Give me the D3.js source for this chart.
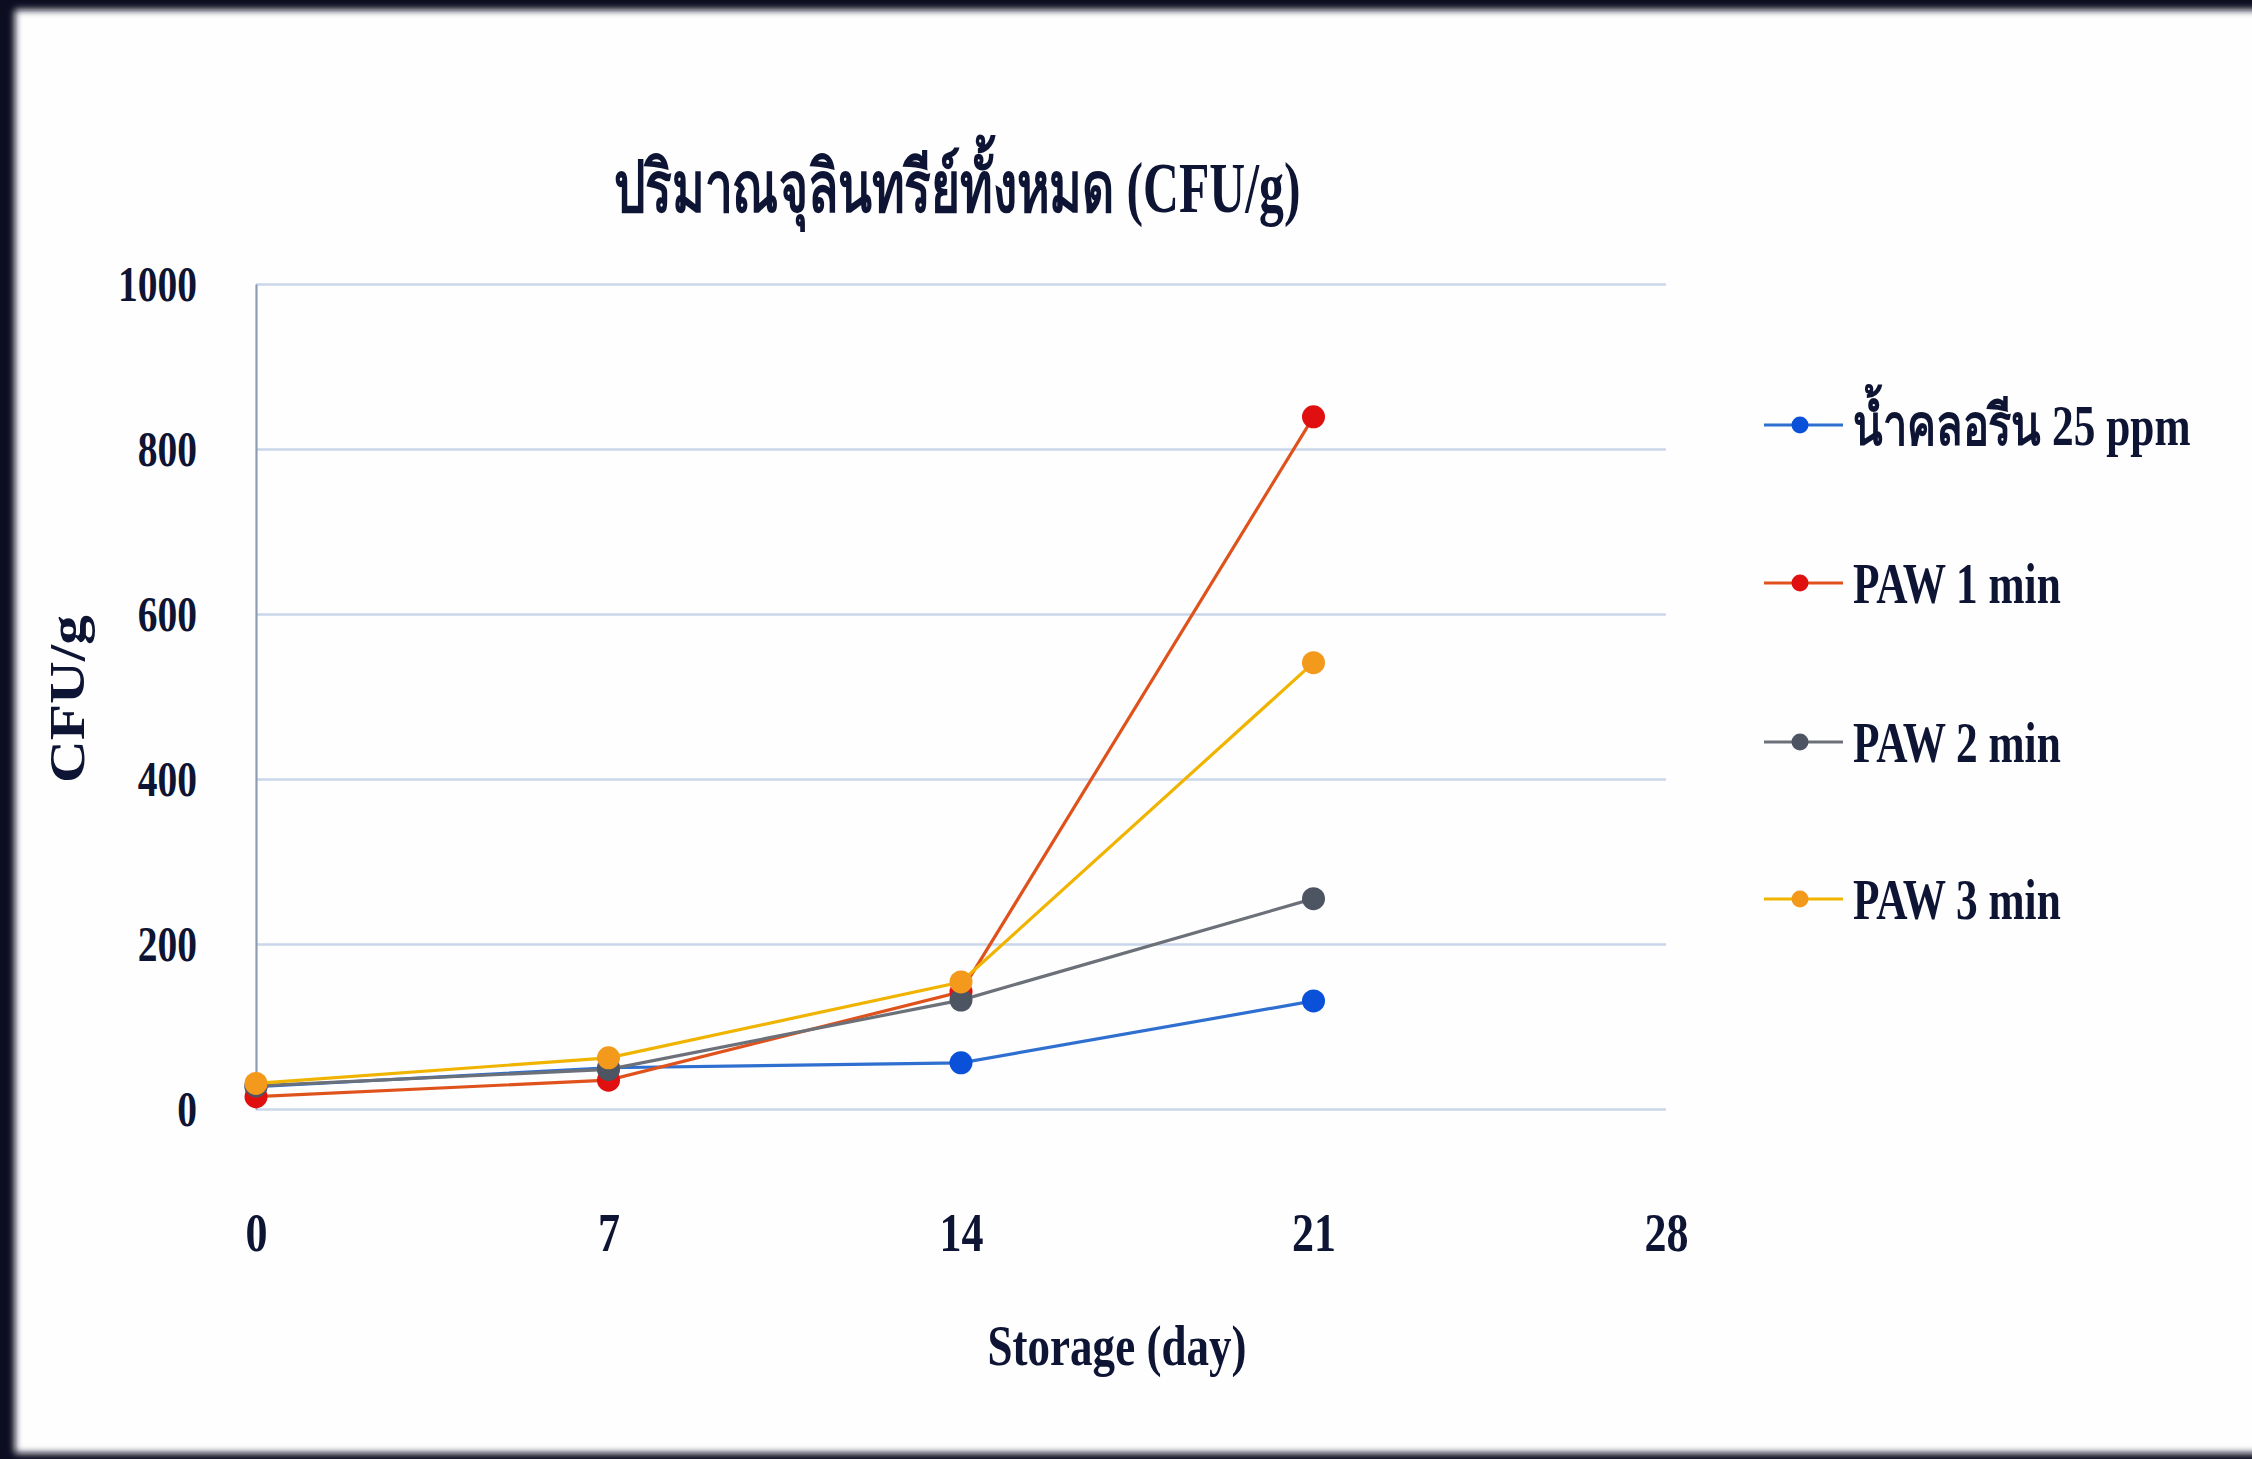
<!DOCTYPE html>
<html>
<head>
<meta charset="utf-8">
<script src="https://cdn.jsdelivr.net/npm/d3@7"></script>
<style>
  html, body { margin: 0; padding: 0; background: #ffffff; overflow: hidden; }
  svg { display: block; }
  text { font-family: "Liberation Serif", "DejaVu Serif", serif; font-weight: bold; fill: #0e1433; }
</style>
</head>
<body>
<script>
// ---- data ----
const days = [0, 7, 14, 21];
const xTicks = [0, 7, 14, 21, 28];
const yTicks = [0, 200, 400, 600, 800, 1000];
const seriesNames = ["น้ำคลอรีน 25 ppm", "PAW 1 min", "PAW 2 min", "PAW 3 min"];
const chlorine25 = [27, 50, 56, 131];
const paw1 = [15, 35, 142, 839];
const paw2 = [28, 48, 132, 255];
const paw3 = [31, 62, 154, 541];
const titleText = "ปริมาณจุลินทรีย์ทั้งหมด (CFU/g)";
const xTitle = "Storage (day)";
const yTitle = "CFU/g";

// ---- styles ----
const lineColors = ["#2f6fd0", "#e0521c", "#6b7079", "#f0b400"];
const markerColors = ["#0a50d8", "#e01010", "#4d5563", "#f39a1c"];

const W = 2252, H = 1459;
const svg = d3.select("body").append("svg").attr("width", W).attr("height", H);

const defs = svg.append("defs");
defs.append("filter").attr("id", "blur").attr("filterUnits", "userSpaceOnUse")
  .attr("x", -60).attr("y", -60).attr("width", W + 120).attr("height", H + 120)
  .append("feGaussianBlur").attr("stdDeviation", 3.5);

// white page with dark frame strips (left, top, bottom)
svg.append("rect").attr("width", W).attr("height", H).attr("fill", "#fefefe");
const frame = svg.append("g").attr("filter", "url(#blur)").attr("fill", "#0a1020");
frame.append("rect").attr("x", -40).attr("y", -40).attr("width", 55).attr("height", H + 80);
frame.append("rect").attr("x", -40).attr("y", -40).attr("width", W + 80).attr("height", 50);
frame.append("rect").attr("x", -40).attr("y", H - 6).attr("width", W + 80).attr("height", 46);

const plot = { left: 256, right: 1666, top: 284, bottom: 1109 };
const x = d3.scaleLinear().domain([0, 28]).range([plot.left, plot.right]);
const y = d3.scaleLinear().domain([0, 1000]).range([plot.bottom, plot.top]);

// gridlines
const grid = svg.append("g").attr("transform", `translate(${plot.left},0)`)
  .call(d3.axisLeft(y).tickValues(yTicks).tickSize(-(plot.right - plot.left)).tickFormat(""));
grid.select(".domain").remove();
grid.selectAll("line").attr("stroke", "#cad6e9").attr("stroke-width", 2.5);

// y axis
const ySX = 0.79;
const yAxis = svg.append("g").attr("transform", `translate(${plot.left},0)`)
  .call(d3.axisLeft(y).tickValues(yTicks).tickSize(0).tickFormat(d3.format("d")));
yAxis.select(".domain").attr("stroke", "#8e9cb2").attr("stroke-width", 2.2);
yAxis.selectAll("text")
  .attr("x", -59 / ySX).attr("dy", "0.33em")
  .attr("transform", `scale(${ySX},1)`)
  .style("font-size", "50px").attr("fill", "#0e1433");

// x axis labels
const xSX = 0.8;
const xAxis = svg.append("g").attr("transform", `translate(0,${plot.bottom})`)
  .call(d3.axisBottom(x).tickValues(xTicks).tickSize(0).tickFormat(d3.format("d")));
xAxis.select(".domain").remove();
xAxis.selectAll("text")
  .attr("y", 142).attr("dy", 0)
  .attr("transform", `scale(${xSX},1)`)
  .style("font-size", "55px").attr("fill", "#0e1433");

// series
const allSeries = [chlorine25, paw1, paw2, paw3];
const line = d3.line().x((d, i) => x(days[i])).y(d => y(d));
allSeries.forEach((vals, si) => {
  const g = svg.append("g");
  g.append("path").datum(vals).attr("d", line)
    .attr("fill", "none").attr("stroke", lineColors[si]).attr("stroke-width", 3.2);
  g.selectAll("circle").data(vals).join("circle")
    .attr("cx", (d, i) => x(days[i])).attr("cy", d => y(d)).attr("r", 11.5)
    .attr("fill", markerColors[si]);
});

// title
svg.append("text").attr("x", 957).attr("y", 212).attr("text-anchor", "middle")
  .style("font-size", "72px").attr("textLength", 687).attr("lengthAdjust", "spacingAndGlyphs")
  .text(titleText);

// axis titles
svg.append("text").attr("x", 1117).attr("y", 1365).attr("text-anchor", "middle")
  .style("font-size", "57px").attr("textLength", 259).attr("lengthAdjust", "spacingAndGlyphs")
  .text(xTitle);
svg.append("text").attr("transform", "translate(84,699) rotate(-90)").attr("text-anchor", "middle")
  .style("font-size", "50px").attr("textLength", 168).attr("lengthAdjust", "spacingAndGlyphs")
  .text(yTitle);

// legend
const legendRows = [425, 583, 742, 899];
const lSX = 0.76;
seriesNames.forEach((name, i) => {
  const g = svg.append("g").attr("transform", `translate(0,${legendRows[i]})`);
  g.append("line").attr("x1", 1764).attr("x2", 1843).attr("y1", 0).attr("y2", 0)
    .attr("stroke", lineColors[i]).attr("stroke-width", 3.2);
  g.append("circle").attr("cx", 1800).attr("cy", 0).attr("r", 8.5).attr("fill", markerColors[i]);
  g.append("text").attr("transform", `translate(1853,20) scale(${lSX},1)`)
    .style("font-size", "57px").text(name);
});
</script>
</body>
</html>
